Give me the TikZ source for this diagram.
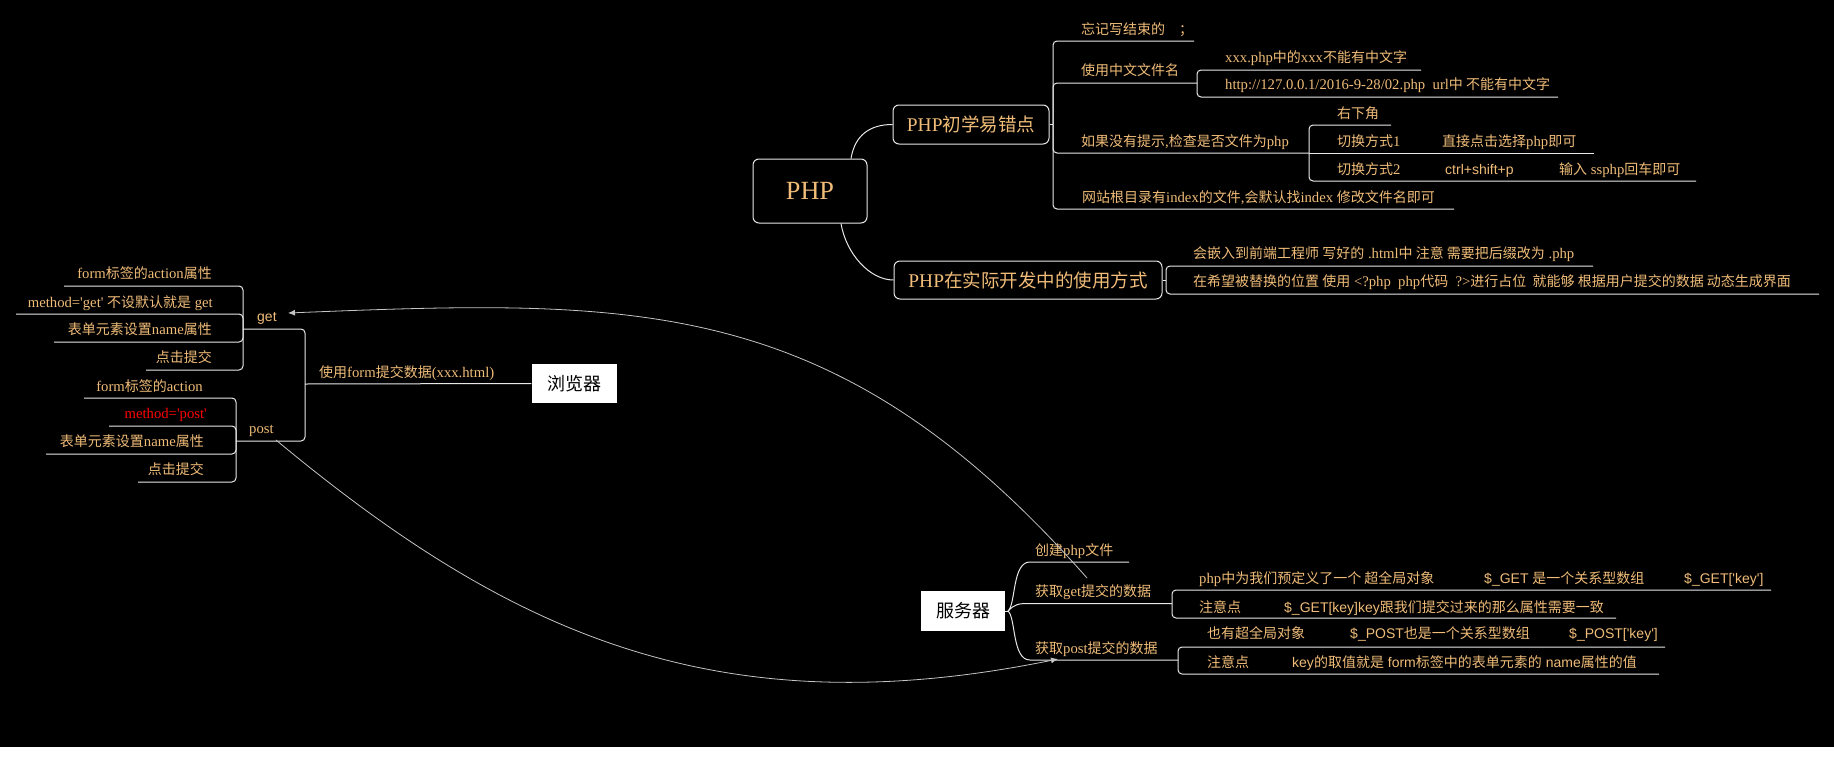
\documentclass[tikz,border=0pt]{standalone}
\usepackage{fontspec}
\setmainfont{Liberation Serif}[Scale=1.05]
\newfontfamily\cjkf{Noto Sans CJK SC}
\newfontfamily\lsans{Liberation Sans}
\newcommand\zh[1]{{\cjkf #1}}
\usetikzlibrary{arrows.meta}
\definecolor{txt}{HTML}{F0BC78}
\definecolor{ln}{HTML}{E8E8E8}
\definecolor{cv}{HTML}{C4C4C4}
\begin{document}
\begin{tikzpicture}[x=1pt,y=-1pt,
  lbl/.style={anchor=west, inner sep=0pt, text=txt, text height=12.3pt, text depth=1.7pt, font=\fontsize{14}{16}\selectfont},
  lblr/.style={lbl, anchor=east},
  ul/.style={draw=ln, line width=1pt, rounded corners=4pt},
  sline/.style={draw=ln, line width=1pt},
  mainbox/.style={draw=ln, line width=1pt, rounded corners=6pt, fill=black, text=txt, inner sep=0pt, font=\fontsize{18.5}{22}\selectfont},
  whitebox/.style={fill=white, text=black, inner sep=0pt, font=\fontsize{18}{21}\selectfont},
  link/.style={draw=cv, line width=0.8pt, -{Latex[length=7pt,width=6pt]}},
]
\useasboundingbox (0,0) rectangle (1834,763);
\fill[black] (0,0) rectangle (1834,747);
\fill[white] (0,747) rectangle (1834,763);

% ---------- PHP ----------
\node[mainbox, font=\fontsize{25}{29}\selectfont, minimum width=114pt, minimum height=64pt] (php) at (810,191) {PHP};
\node[mainbox, minimum width=156pt, minimum height=39pt] (t1) at (971,124.5) {PHP\zh{初学易错点}};
\node[mainbox, minimum width=268pt, minimum height=38pt] (t2) at (1028,280) {PHP\zh{在实际开发中的使用方式}};
\draw[sline] ([xshift=41pt]php.north) .. controls +(4,-24) and +(-22,0) .. (t1.west);
\draw[sline] ([xshift=31pt]php.south) .. controls +(5,30) and +(-24,0) .. (t2.west);

% children of t1
\coordinate (j1) at (1053,124.5);
\draw[ul] (t1.east) -- (j1);
\draw[ul] (j1) |- (1194,41);
\draw[ul] (j1) |- (1197,83);
\draw[ul] (j1) |- (1309,153);
\draw[ul] (j1) |- (1454,209);
\node[lbl] (a1) at (1081,29) {\zh{忘记写结束的}\hspace{14pt}\zh{；}};
\node[lbl] (a2) at (1081,70) {\zh{使用中文文件名}};
\node[lbl] (a3) at (1081,141) {\zh{如果没有提示},\zh{检查是否文件为}php};
\node[lbl] (a4) at (1082,197) {\zh{网站根目录有}index\zh{的文件},\zh{会默认找}index \zh{修改文件名即可}};

\coordinate (j2) at (1197,83);
\draw[ul] (j2) |- (1421,70);
\draw[ul] (j2) |- (1558,97);
\node[lbl] (a21) at (1225,57) {xxx.php\zh{中的}xxx\zh{不能有中文字}};
\node[lbl] (a22) at (1225,84) {http://127.0.0.1/2016-9-28/02.php\ \ url\zh{中 不能有中文字}};

\coordinate (j3) at (1309,153);
\draw[ul] (j3) |- (1391,125);
\draw[ul] (j3) -- (1594,153);
\draw[ul] (j3) |- (1696,181);
\node[lbl] (a31) at (1337,113) {\zh{右下角}};
\node[lbl] (a32) at (1337,141) {\zh{切换方式}1};
\node[lbl] (a321) at (1442,141) {\zh{直接点击选择}php\zh{即可}};
\node[lbl] (a33) at (1337,169) {\zh{切换方式}2};
\node[lbl] (a331) at (1445,169) {\lsans ctrl+shift+p};
\node[lbl] (a332) at (1559,169) {\zh{输入} ssphp\zh{回车即可}};

% children of t2
\coordinate (k1) at (1166,280);
\draw[ul] (t2.east) -- (k1);
\draw[ul] (k1) |- (1593,266);
\draw[ul] (k1) |- (1819,294);
\node[lbl] (b1) at (1193,253) {\zh{会嵌入到前端工程师 写好的} .html\zh{中 注意 需要把后缀改为} .php};
\node[lbl] (b2) at (1193,281) {\zh{在希望被替换的位置 使用} <?php\ \ php\zh{代码}\ \ ?>\zh{进行占位\ \ 就能够 根据用户提交的数据 动态生成界面}};

% ---------- browser ----------
\node[whitebox, minimum width=85pt, minimum height=39pt] (browser) at (574,383.5) {\zh{浏览器}};
\coordinate (m1) at (305,384);
\draw[ul] (browser.west) -- (m1);
\node[lbl] (c0) at (319,372) {\zh{使用}form\zh{提交数据}(xxx.html)};
\draw[ul] (m1) |- (243,329);
\draw[ul] (m1) |- (236,441);
\node[lbl] (get) at (257,316) {\lsans get};
\node[lbl] (post) at (249,428) {post};

\coordinate (g) at (243,329);
\draw[ul] (g) |- (64,286);
\draw[ul] (g) |- (16,314);
\draw[ul] (g) |- (54,342);
\draw[ul] (g) |- (146,370);
\node[lblr] (g1) at (212,273) {form\zh{标签的}action\zh{属性}};
\node[lblr] (g2) at (213,302) {method=\textquotesingle get\textquotesingle{} \zh{不设默认就是} get};
\node[lblr] (g3) at (212,329) {\zh{表单元素设置}name\zh{属性}};
\node[lblr] (g4) at (212,357) {\zh{点击提交}};

\coordinate (p) at (236,441);
\draw[ul] (p) |- (84,398);
\draw[ul] (p) |- (109,426);
\draw[ul] (p) |- (46,454);
\draw[ul] (p) |- (138,482);
\node[lblr] (p1) at (203,386) {form\zh{标签的}action};
\node[lblr, text=red] (p2) at (207,413) {method=\textquotesingle post\textquotesingle};
\node[lblr] (p3) at (204,441) {\zh{表单元素设置}name\zh{属性}};
\node[lblr] (p4) at (204,469) {\zh{点击提交}};

% ---------- server ----------
\node[whitebox, minimum width=84pt, minimum height=40pt] (server) at (963,611) {\zh{服务器}};
\coordinate (s0) at (1008,611);
\draw[sline] (server.east) -- (s0);
\draw[sline] (s0) .. controls (1016,604) and (1012,562) .. (1030,562) -- (1129,562);
\draw[sline] (s0) .. controls (1015,604) and (1018,603.5) .. (1030,603.5) -- (1172,603.5);
\draw[sline] (s0) .. controls (1016,618) and (1012,660) .. (1030,660) -- (1178,660);
\node[lbl] (s1) at (1035,550) {\zh{创建}php\zh{文件}};
\node[lbl] (s2) at (1035,591) {\zh{获取}get\zh{提交的数据}};
\node[lbl] (s3) at (1035,648) {\zh{获取}post\zh{提交的数据}};

\coordinate (sg) at (1172,603.5);
\draw[ul] (sg) |- (1771,590);
\draw[ul] (sg) |- (1616,618);
\node[lbl] (s21) at (1199,578) {php\zh{中为我们预定义了一个 超全局对象}};
\node[lbl] (s21b) at (1484,578) {\lsans \$\_GET \zh{是一个关系型数组}};
\node[lbl] (s21c) at (1684,578) {\lsans \$\_GET[\textquotesingle key\textquotesingle]};
\node[lbl] (s22) at (1199,607) {\zh{注意点}};
\node[lbl] (s22b) at (1284,607) {\lsans \$\_GET[key]key\zh{跟我们提交过来的那么属性需要一致}};

\coordinate (sp) at (1178,660);
\draw[ul] (sp) |- (1665,647);
\draw[ul] (sp) |- (1659,674);
\node[lbl] (s31) at (1207,633) {\zh{也有超全局对象}};
\node[lbl] (s31b) at (1350,633) {\lsans \$\_POST\zh{也是一个关系型数组}};
\node[lbl] (s31c) at (1569,633) {\lsans \$\_POST[\textquotesingle key\textquotesingle]};
\node[lbl] (s32) at (1207,662) {\zh{注意点}};
\node[lbl] (s32b) at (1292,662) {\lsans key\zh{的取值就是} form\zh{标签中的表单元素的} name\zh{属性的值}};

% ---------- cross links ----------
\coordinate (getfrom) at (1087,578);
\coordinate (getto) at (288,313);
\draw[link] (getfrom) .. controls (836,293) and (638,299) .. (getto);
\coordinate (postfrom) at (276,440);
\coordinate (postto) at (1058,659);
\draw[link] (postfrom) .. controls (507,632) and (715,729) .. (postto);
\end{tikzpicture}
\end{document}
